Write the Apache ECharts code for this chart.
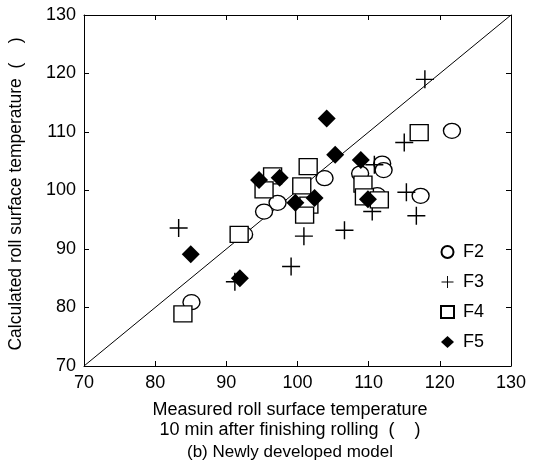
<!DOCTYPE html>
<html>
<head>
<meta charset="utf-8">
<script src="https://cdn.jsdelivr.net/npm/echarts@6/dist/echarts.min.js"></script>
<style>
html,body{margin:0;padding:0;background:#fff;}
#chart{width:538px;height:475px;}
</style>
</head>
<body>
<div id="chart"></div>
<script>
// Measured (x) vs calculated (y) roll surface temperature
var seriesNames = ['F2', 'F3', 'F4', 'F5'];
var f2Data = [[121.7,110.2],[111.9,104.6],[112.1,103.5],[108.8,102.9],[103.8,102.1],[97.2,97.9],[95.3,96.4],[117.3,99.1],[111.2,99.2],[92.5,92.5],[85.1,80.9]];
var f3Data = [[117.9,119.0],[115.0,108.2],[110.8,104.4],[115.3,99.7],[116.7,95.7],[110.5,96.4],[106.6,93.2],[100.9,92.2],[99.1,87.0],[83.3,93.6],[91.2,84.4]];
var f4Data = [[117.1,109.9],[101.5,104.1],[96.5,102.5],[95.3,100.1],[100.6,100.8],[101.6,97.5],[101.0,95.8],[109.2,101.1],[109.4,98.9],[111.5,98.4],[91.8,92.5],[83.9,78.9]];
var f5Data = [[104.1,112.3],[105.3,106.1],[108.9,105.2],[94.6,101.8],[97.5,102.2],[99.7,97.9],[102.4,98.7],[109.9,98.5],[85.0,89.1],[91.9,85.0]];
var refLine = [[70,70],[130,130]];
var axisMin = 70, axisMax = 130, axisStep = 10;
var yTitle = 'Calculated roll surface temperature  (    )';
var xTitle1 = 'Measured roll surface temperature';
var xTitle2 = '10 min after finishing rolling  (    )';
var caption = '(b) Newly developed model';

var FONT = '"Liberation Sans", Arial, sans-serif';
var plusPath = 'path://M9.2,0 H10.8 V9.2 H20 V10.8 H10.8 V20 H9.2 V10.8 H0 V9.2 H9.2 Z';

function axisBase(pos, showLabel) {
  return {
    type: 'value', position: pos, min: axisMin, max: axisMax, interval: axisStep,
    axisLine: {show: true, onZero: false, lineStyle: {color: '#000', width: 1}},
    axisTick: {show: true, inside: true, length: 5, lineStyle: {color: '#000', width: 1}},
    axisLabel: {show: showLabel, color: '#000', fontSize: 18, fontFamily: FONT, margin: 8},
    splitLine: {show: false}
  };
}

var chart = echarts.init(document.getElementById('chart'), null, {renderer: 'canvas'});
chart.setOption({
  backgroundColor: '#fff',
  animation: false,
  grid: {left: 84, top: 15, right: 27, bottom: 109, containLabel: false},
  xAxis: [axisBase('bottom', true), axisBase('top', false)],
  yAxis: [axisBase('left', true), axisBase('right', false)],
  legend: {
    orient: 'vertical', left: 435, top: 238,
    itemWidth: 13, itemHeight: 12, itemGap: 12,
    textStyle: {color: '#000', fontSize: 18, lineHeight: 12, fontFamily: FONT, padding: [0, 0, 0, 4]},
    data: seriesNames
  },
  graphic: [
    {type: 'text', x: 16, y: 194, rotation: Math.PI / 2,
     style: {text: yTitle, fill: '#000', font: '17.5px ' + FONT, textAlign: 'center', textVerticalAlign: 'middle'}},
    {type: 'text', x: 290, y: 410,
     style: {text: xTitle1, fill: '#000', font: '18px ' + FONT, textAlign: 'center', textVerticalAlign: 'middle'}},
    {type: 'text', x: 290, y: 430,
     style: {text: xTitle2, fill: '#000', font: '18px ' + FONT, textAlign: 'center', textVerticalAlign: 'middle'}},
    {type: 'text', x: 290, y: 452,
     style: {text: caption, fill: '#000', font: '17px ' + FONT, textAlign: 'center', textVerticalAlign: 'middle'}}
  ],
  series: [
    {type: 'line', data: refLine, symbol: 'none', silent: true,
     lineStyle: {color: '#000', width: 1}, z: 1},
    {name: 'F2', type: 'scatter', data: f2Data, symbol: 'circle', symbolSize: [17, 15],
     itemStyle: {color: '#fff', borderColor: '#000', borderWidth: 1.3, opacity: 1}, z: 2},
    {name: 'F3', type: 'scatter', data: f3Data, symbol: plusPath, symbolSize: 18,
     itemStyle: {color: '#000', opacity: 1}, z: 3},
    {name: 'F4', type: 'scatter', data: f4Data, symbol: 'rect', symbolSize: [18, 16],
     itemStyle: {color: '#fff', borderColor: '#000', borderWidth: 1.3, opacity: 1}, z: 4},
    {name: 'F5', type: 'scatter', data: f5Data, symbol: 'diamond', symbolSize: 18,
     itemStyle: {color: '#000', opacity: 1}, z: 5}
  ]
});
</script>
</body>
</html>
